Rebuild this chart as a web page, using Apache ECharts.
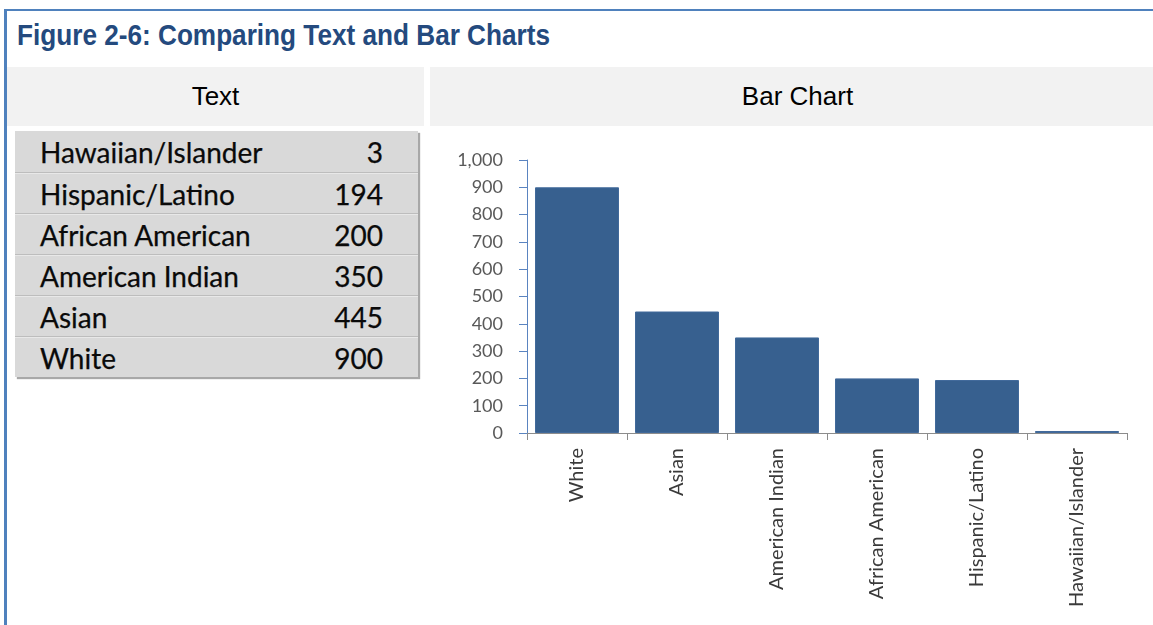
<!DOCTYPE html>
<html>
<head>
<meta charset="utf-8">
<script src="https://cdn.jsdelivr.net/npm/echarts@6/dist/echarts.min.js"></script>
<style>
  html, body { margin: 0; padding: 0; background: #ffffff; width: 1153px; height: 625px; overflow: hidden; }
  #frameTop { position: absolute; left: 4px; top: 9px; width: 1149px; height: 2px; background: #4f81bd; }
  #frameLeft { position: absolute; left: 4px; top: 9px; width: 3px; height: 616px; background: #4f81bd; }
  #title { position: absolute; left: 17px; top: 20px; white-space: nowrap; line-height: 30px;
           font-family: "Liberation Sans Narrow", "Arial Narrow", "Liberation Sans", Arial, sans-serif;
           font-weight: bold; font-size: 30px; color: #244a7e; transform-origin: 0 0; }
  .hdr { position: absolute; top: 67px; height: 59px; line-height: 59px; background: #f2f2f2; text-align: center;
         font-family: "Liberation Sans", Arial, sans-serif; font-size: 26px; color: #000; box-sizing: border-box; }
  #hdrText { left: 7px; width: 417px; }
  #hdrBar { left: 430px; width: 723px; padding-left: 12px; }
  #table { position: absolute; left: 15px; top: 131px; width: 403px; background: #d9d9d9;
           box-shadow: 2px 2px 1px #a8a8a8; }
  .row { position: relative; height: 41px; line-height: 41px; box-sizing: border-box;
         font-family: Lato, "Noto Sans", sans-serif; font-size: 28px; color: #0a0a0a;
         -webkit-text-stroke: 0.25px #0a0a0a; }
  .row + .row { border-top: 1px solid #bdbdbd; box-shadow: inset 0 1px 0 #e8e8e8; }
  .row .lab { position: absolute; left: 25px; top: 1px; }
  .row .val { position: absolute; right: 35px; top: 1px; }
  #chart { position: absolute; left: 430px; top: 126px; width: 723px; height: 499px; }
</style>
</head>
<body>
<div id="frameTop"></div>
<div id="frameLeft"></div>
<div id="title">Figure 2-6: Comparing Text and Bar Charts</div>
<div class="hdr" id="hdrText">Text</div>
<div class="hdr" id="hdrBar">Bar Chart</div>
<div id="table"></div>
<div id="chart"></div>
<script>
// Data (bar chart order, descending)
var categories = ["White", "Asian", "American Indian", "African American", "Hispanic/Latino", "Hawaiian/Islander"];
var values = [900, 445, 350, 200, 194, 3];
// Table order (ascending)
var tableCategories = ["Hawaiian/Islander", "Hispanic/Latino", "African American", "American Indian", "Asian", "White"];
var tableValues = [3, 194, 200, 350, 445, 900];
var yTicks = { min: 0, max: 1000, interval: 100 };

// Fit title width to the reference (about 533px)
(function () {
  var t = document.getElementById('title');
  var w = t.getBoundingClientRect().width;
  if (w > 0) { t.style.transform = 'scaleX(' + (533 / w) + ')'; }
})();

// Build text table
(function () {
  var tbl = document.getElementById('table');
  for (var i = 0; i < tableCategories.length; i++) {
    var r = document.createElement('div');
    r.className = 'row';
    var a = document.createElement('span'); a.className = 'lab'; a.textContent = tableCategories[i];
    var b = document.createElement('span'); b.className = 'val'; b.textContent = String(tableValues[i]);
    r.appendChild(a); r.appendChild(b);
    tbl.appendChild(r);
  }
})();

var chart = echarts.init(document.getElementById('chart'), null, { renderer: 'canvas' });
chart.setOption({
  animation: false,
  grid: { left: 97, top: 34, width: 600, height: 273, containLabel: false },
  xAxis: {
    type: 'category',
    data: categories,
    boundaryGap: true,
    axisLine: { show: true, lineStyle: { color: '#8c8c8c', width: 1 } },
    axisTick: { show: true, alignWithLabel: false, length: 7, lineStyle: { color: '#8c8c8c' } },
    axisLabel: {
      rotate: 90, margin: 15, interval: 0,
      fontFamily: 'Lato, "Noto Sans", sans-serif', fontSize: 20, color: '#3a3a3a'
    },
    splitLine: { show: false }
  },
  yAxis: {
    type: 'value',
    min: yTicks.min, max: yTicks.max, interval: yTicks.interval,
    axisLine: { show: true, lineStyle: { color: '#5a84c0', width: 1 } },
    axisTick: { show: true, length: 8, lineStyle: { color: '#5a84c0' } },
    axisLabel: {
      margin: 24,
      fontFamily: 'Lato, "Noto Sans", sans-serif', fontSize: 18, color: '#595959',
      formatter: function (v) { return v.toLocaleString('en-US'); }
    },
    splitLine: { show: false }
  },
  series: [{
    type: 'bar',
    data: values,
    barCategoryGap: '16%',
    barMinHeight: 2,
    itemStyle: { color: '#37608f', borderColor: '#41699a', borderWidth: 1 }
  }]
});
</script>
</body>
</html>
